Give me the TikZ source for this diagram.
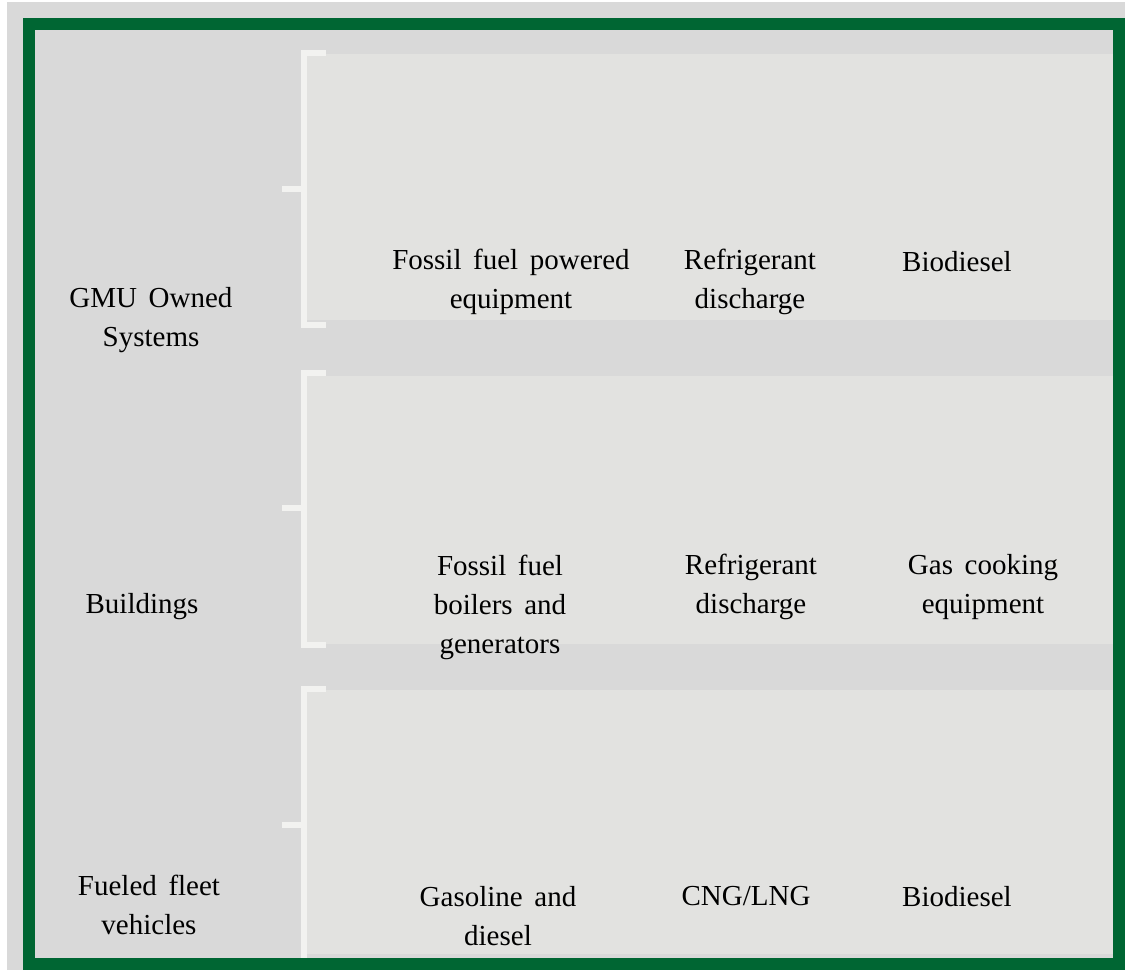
\documentclass[tikz,border=0pt]{standalone}
\usepackage{fontspec}
\setmainfont{Liberation Serif}[WordSpace=1.6]
\definecolor{gmugreen}{RGB}{0,102,51}
\definecolor{panelgray}{RGB}{217,217,217}
\definecolor{rowgray}{RGB}{226,226,224}
\definecolor{tickwhite}{RGB}{242,242,240}
\begin{document}
\begin{tikzpicture}[x=1pt, y=-1pt,
          row/.style={fill=rowgray},
          bracket/.style={draw=tickwhite, line width=6pt},
          lbl/.style={font=\fontsize{29}{39}\selectfont, align=center, anchor=north, inner sep=0pt}]
          \useasboundingbox (0,0) rectangle (1125,970);
          \fill[white] (0,0) rectangle (1125,970);
          \fill[panelgray] (7,2) rectangle (1125,970);
          % rows
          \foreach \ra/\rb in {54/320, 376/644, 690/954}{
              \fill[row] (307,\ra) rectangle (1113,\rb);
          }
          % brackets
          \foreach \ta/\tb/\tm in {53/325/189, 373/645/508}{
              \draw[bracket] (326,\ta) -- (304,\ta) -- (304,\tb) -- (326,\tb);
              \draw[bracket] (282,\tm) -- (304,\tm);
          }
          \draw[bracket] (326,689) -- (304,689) -- (304,958);
          \draw[bracket] (282,825) -- (304,825);
          % border
          \draw[gmugreen, line width=12pt] (29,24) rectangle (1119,964);
          % categories
          \node[lbl] (gmu) at (151,287) {GMU Owned\\Systems};
          \node[lbl] (bldg) at (142,593) {Buildings};
          \node[lbl] (fleet) at (149,875) {Fueled fleet\\vehicles};
          % sources
          \node[lbl] (gmu fossil) at (511,249) {Fossil fuel powered\\equipment};
          \node[lbl] (gmu refr) at (750,249) {Refrigerant\\discharge};
          \node[lbl] (gmu bio) at (957,251) {Biodiesel};
          \node[lbl] (bldg fossil) at (500,555) {Fossil fuel\\boilers and\\generators};
          \node[lbl] (bldg refr) at (751,554) {Refrigerant\\discharge};
          \node[lbl] (bldg gas) at (983,554) {Gas cooking\\equipment};
          \node[lbl] (fleet fuel) at (498,886) {Gasoline and\\diesel};
          \node[lbl] (fleet cng) at (746,886) {CNG/LNG};
          \node[lbl] (fleet bio) at (957,886) {Biodiesel};
      \end{tikzpicture}
\end{document}
